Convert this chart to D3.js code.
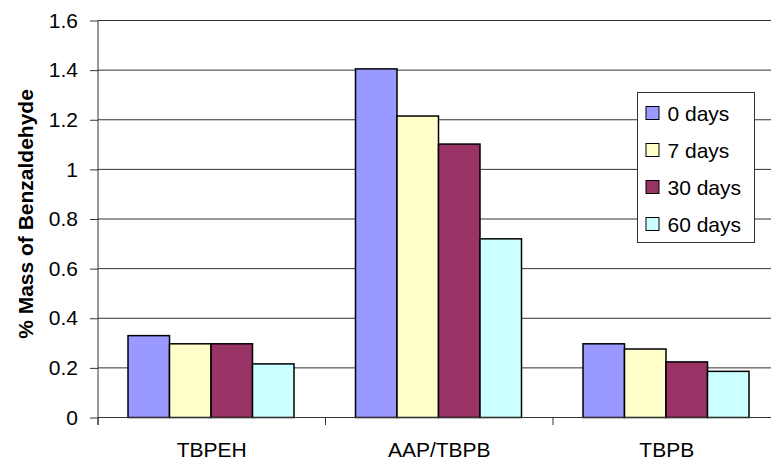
<!DOCTYPE html>
<html>
<head>
<meta charset="utf-8">
<script src="https://cdn.jsdelivr.net/npm/d3@7"></script>
<style>
  html, body { margin: 0; padding: 0; background: #fff; }
  svg { display: block; font-family: "Liberation Sans", Arial, sans-serif; }
</style>
</head>
<body>
<svg id="chart" width="771" height="462"></svg>
<script>
const categories = ["TBPEH", "AAP/TBPB", "TBPB"];
const seriesNames = ["0 days", "7 days", "30 days", "60 days"];
const days0  = [0.33, 1.405, 0.297];
const days7  = [0.297, 1.215, 0.276];
const days30 = [0.297, 1.102, 0.224];
const days60 = [0.216, 0.72, 0.186];
const seriesValues = [days0, days7, days30, days60];
const colors = ["#9999FF", "#FFFFCC", "#993366", "#CCFFFF"];
const yTicks = [0, 0.2, 0.4, 0.6, 0.8, 1, 1.2, 1.4, 1.6];

const FS = 21;
const svg = d3.select("#chart");
const x0 = 98, bandW = 227.5;
const x = d3.scaleBand().domain(categories).range([x0, x0 + bandW * 3]).padding(0);
const xs = d3.scaleBand().domain(seriesNames).range([30, 196]).padding(0);
const y = d3.scaleLinear().domain([0, 1.6]).range([417.5, 20.5]);

// gridlines
svg.append("g").selectAll("line").data(yTicks).join("line")
  .attr("x1", x0).attr("x2", 771)
  .attr("y1", d => y(d)).attr("y2", d => y(d))
  .attr("stroke", "#333").attr("stroke-width", 1);

// y axis
const yAxis = d3.axisLeft(y).tickValues(yTicks).tickSize(8).tickPadding(12)
  .tickFormat(d => d3.format("")(d));
const gy = svg.append("g").attr("transform", `translate(${x0},0)`).call(yAxis);
gy.select(".domain").remove();
gy.selectAll(".tick line").attr("stroke", "#333");
gy.selectAll(".tick text").attr("font-size", FS).attr("fill", "#000")
  .attr("font-family", "Liberation Sans, Arial, sans-serif");
svg.append("line").attr("x1", x0).attr("x2", x0).attr("y1", y(1.6)).attr("y2", 425)
  .attr("stroke", "#333");

// bars
const gBars = svg.append("g");
categories.forEach((c, ci) => {
  seriesNames.forEach((s, si) => {
    const v = seriesValues[si][ci];
    gBars.append("rect")
      .attr("x", x(c) + xs(s))
      .attr("y", y(v))
      .attr("width", xs.bandwidth())
      .attr("height", y(0) - y(v))
      .attr("fill", colors[si])
      .attr("stroke", "#000").attr("stroke-width", 1.5);
  });
});

// x axis
svg.append("line").attr("x1", x0).attr("x2", 771).attr("y1", y(0)).attr("y2", y(0))
  .attr("stroke", "#333");
const bounds = categories.map(c => x(c) + x.bandwidth()).concat([x0]);
svg.append("g").selectAll("line").data(bounds).join("line")
  .attr("x1", d => d).attr("x2", d => d).attr("y1", y(0)).attr("y2", 425)
  .attr("stroke", "#333");
svg.append("g").selectAll("text").data(categories).join("text")
  .attr("x", d => x(d) + x.bandwidth() / 2)
  .attr("y", 457)
  .attr("text-anchor", "middle")
  .attr("font-size", FS)
  .text(d => d);

// y title
svg.append("text")
  .attr("transform", `translate(33,214) rotate(-90)`)
  .attr("text-anchor", "middle")
  .attr("font-size", FS).attr("font-weight", "bold")
  .text("% Mass of Benzaldehyde");

// legend
const lg = svg.append("g").attr("transform", "translate(637.5,92.5)");
lg.append("rect").attr("width", 117).attr("height", 150)
  .attr("fill", "#fff").attr("stroke", "#333").attr("stroke-width", 1);
seriesNames.forEach((s, i) => {
  const cy = 20.5 + i * 37;
  lg.append("rect").attr("x", 8.5).attr("y", cy - 6.5).attr("width", 13).attr("height", 13)
    .attr("fill", colors[i]).attr("stroke", "#000").attr("stroke-width", 1);
  lg.append("text").attr("x", 30).attr("y", cy + 7.5)
    .attr("font-size", FS).text(s);
});
</script>
</body>
</html>
